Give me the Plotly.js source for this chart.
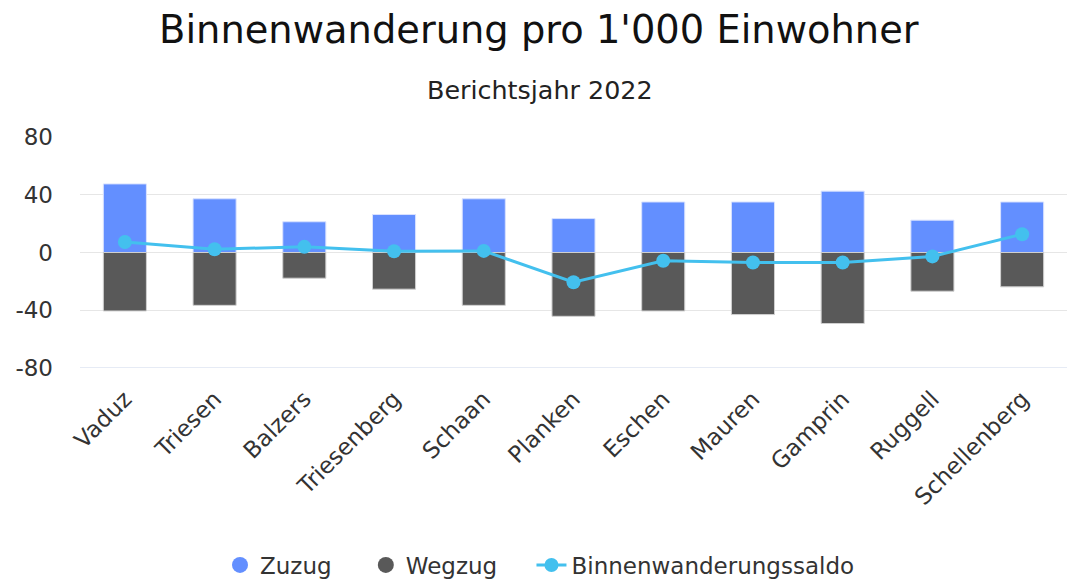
<!DOCTYPE html>
<html>
<head>
<meta charset="utf-8">
<script src="https://cdn.plot.ly/plotly-3.0.1.min.js"></script>
<style>html,body{margin:0;padding:0;background:#fff;}#chart{width:1067px;height:579px;}</style>
</head>
<body>
<div id="chart"></div>
<script>
const categories = ["Vaduz","Triesen","Balzers","Triesenberg","Schaan","Planken","Eschen","Mauren","Gamprin","Ruggell","Schellenberg"];
const zuzug = [47.5, 37.2, 21.3, 26.3, 37.2, 23.5, 35.0, 35.0, 42.5, 22.4, 35.0];
const wegzug = [-40.5, -36.6, -17.8, -25.4, -36.6, -44.2, -40.5, -43.0, -49.2, -26.8, -23.8];
const saldo = [7.3, 2.3, 3.9, 0.9, 1.1, -20.6, -5.7, -6.9, -6.9, -2.7, 12.6];
const yTicks = [-80, -40, 0, 40, 80];
const seriesNames = ["Zuzug", "Wegzug", "Binnenwanderungssaldo"];

const FONT = "'DejaVu Sans', sans-serif";
const PAD = "\u00a0\u00a0\u00a0\u00a0";
const traces = [
  {type:"bar", x:categories, y:zuzug, name:seriesNames[0], showlegend:false,
   marker:{color:"#638FFF", line:{color:"#d9e2ff", width:1}}},
  {type:"bar", x:categories, y:wegzug, name:seriesNames[1], showlegend:false,
   marker:{color:"#595959", line:{color:"#d0d0d0", width:1}}},
  {type:"scatter", mode:"markers", x:[null], y:[null], name:seriesNames[0] + PAD,
   marker:{symbol:"circle", size:22, color:"#638FFF"}},
  {type:"scatter", mode:"markers", x:[null], y:[null], name:seriesNames[1] + PAD,
   marker:{symbol:"circle", size:22, color:"#595959"}},
  {type:"scatter", mode:"lines+markers", x:categories, y:saldo, name:seriesNames[2],
   line:{color:"#43C0EE", width:3}, marker:{symbol:"circle", size:14, color:"#43C0EE"}}
];

const layout = {
  width:1067, height:579,
  margin:{l:80, r:0, t:137, b:211},
  paper_bgcolor:"#fff", plot_bgcolor:"#fff",
  font:{family:FONT, color:"#333", size:23},
  title:{text:"Binnenwanderung pro 1'000 Einwohner", font:{family:FONT, size:38.4, color:"#111"},
         x:0.505, xanchor:"center", xref:"container", yref:"container", y:1-30/579, yanchor:"middle"},
  annotations:[{text:"Berichtsjahr 2022", xref:"paper", yref:"paper", x:(540-80)/987, y:(368-90)/231,
                xanchor:"center", yanchor:"middle", showarrow:false, font:{family:FONT, size:25.4, color:"#222"}}],
  barmode:"relative",
  bargap:0.52,
  xaxis:{type:"category", range:[-0.5, 10.5], tickangle:-45, tickfont:{size:23, color:"#333"}, showgrid:false,
         showline:false, zeroline:false, ticks:"", automargin:false, ticklabelstandoff:12},
  yaxis:{range:[-80,80], tickvals:yTicks, ticktext:yTicks.map(String), showgrid:true, gridcolor:"#e6e6e6",
         gridwidth:1, zeroline:true, zerolinecolor:"#e6e6e6", zerolinewidth:1, showline:false,
         tickfont:{size:23, color:"#333"}, ticks:"", ticklabelstandoff:26, automargin:false},
  shapes:[{type:"line", xref:"paper", yref:"y", x0:0, x1:1, y0:-80, y1:-80, line:{color:"#ccd6eb", width:1}}],
  legend:{orientation:"h", x:(540-80)/987, xanchor:"center", yref:"container", y:1-565/579, yanchor:"middle",
          font:{size:23, color:"#333"}, itemsizing:"trace", traceorder:"normal"}
};
Plotly.newPlot("chart", traces, layout, {displayModeBar:false, staticPlot:true});
</script>
</body>
</html>
